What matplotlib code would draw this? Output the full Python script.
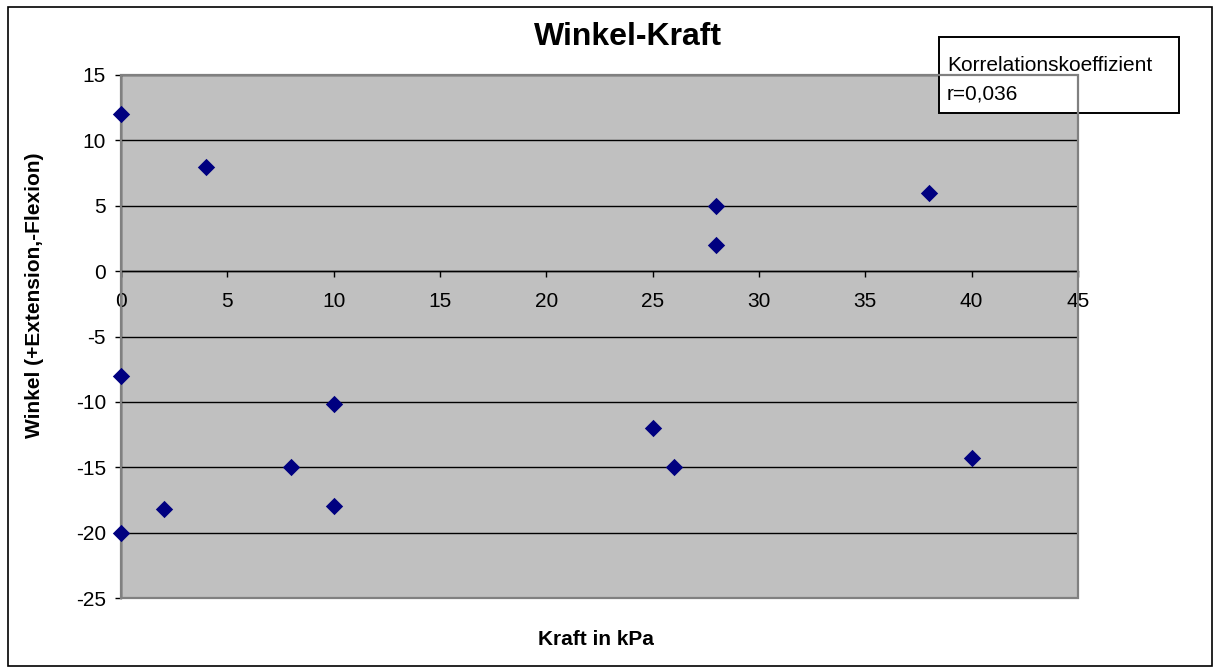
import matplotlib
matplotlib.use("Agg")
import matplotlib.pyplot as plt
from matplotlib.patches import Rectangle

plt.rcParams['font.family'] = ['Liberation Sans', 'DejaVu Sans']
plt.rcParams['axes.unicode_minus'] = False

kraft = [0, 4, 28, 28, 38, 0, 10, 25, 26, 40, 8, 10, 2, 0]
winkel = [12, 8, 5, 2, 6, -8, -10.2, -12, -15, -14.3, -15, -18, -18.2, -20]
x_ticks = [0, 5, 10, 15, 20, 25, 30, 35, 40, 45]
y_ticks = [15, 10, 5, 0, -5, -10, -15, -20, -25]
title = "Winkel-Kraft"
x_label = "Kraft in kPa"
y_label = "Winkel (+Extension,-Flexion)"
legend_lines = ["Korrelationskoeffizient", "r=0,036"]

W, H = 1214, 668
fig = plt.figure(figsize=(W / 100, H / 100), dpi=100)
fig.patch.set_facecolor('white')

def fx(px):
    return px / W

def fy(py):
    return 1 - py / H

# outer frame
fig.add_artist(Rectangle((fx(8), fy(666)), fx(1212) - fx(8), fy(7) - fy(666),
                         transform=fig.transFigure, fill=False,
                         edgecolor='black', linewidth=1.2))

ax = fig.add_axes([fx(121), fy(598), fx(1078) - fx(121), fy(75) - fy(598)])
ax.set_facecolor('#c0c0c0')
ax.set_xlim(0, 45)
ax.set_ylim(-25, 15)
ax.set_yticks(y_ticks)
ax.set_xticks(x_ticks)
ax.yaxis.grid(True, color='black', linewidth=1.0)
ax.set_axisbelow(True)

for s in ['top', 'right']:
    ax.spines[s].set_visible(False)
ax.spines['bottom'].set_position(('data', 0))
ax.spines['bottom'].set_color('black')
ax.spines['bottom'].set_linewidth(1.0)
ax.spines['left'].set_color('black')
ax.spines['left'].set_linewidth(1.0)

# grey plot-area border
ax.add_patch(Rectangle((0, 0), 1, 1, transform=ax.transAxes, fill=False,
                       edgecolor='#808080', linewidth=1.6, zorder=2.6, clip_on=False))

ax.tick_params(axis='x', direction='out', length=4.3, width=1.0, labelsize=15,
               pad=10.8, colors='black')
ax.tick_params(axis='y', direction='out', length=4.3, width=1.0, labelsize=15,
               pad=6.5, colors='black')

ax.scatter(kraft, winkel, marker='D', s=78, color='#000080', zorder=5,
           clip_on=False, linewidths=0)

# correlation box (drawn below the plot-area border, as in the original)
ax.add_patch(Rectangle((fx(939), fy(113)), fx(1179) - fx(939), fy(37) - fy(113),
                       transform=fig.transFigure, facecolor='white',
                       edgecolor='black', linewidth=1.4, zorder=2.55, clip_on=False))
ax.text(fx(947), fy(71), legend_lines[0], transform=fig.transFigure, fontsize=15,
        ha='left', va='baseline', zorder=2.56, clip_on=False)
ax.text(fx(947), fy(100), legend_lines[1], transform=fig.transFigure, fontsize=15,
        ha='left', va='baseline', zorder=2.56, clip_on=False)

fig.text(fx(628), fy(45), title, fontsize=23, fontweight='bold',
         ha='center', va='baseline')
fig.text(fx(596), fy(645), x_label, fontsize=15, fontweight='bold',
         ha='center', va='baseline')
fig.text(fx(35), fy(295), y_label, fontsize=15, fontweight='bold',
         ha='center', va='center', rotation=90)

fig.savefig('out.png', dpi=100)
